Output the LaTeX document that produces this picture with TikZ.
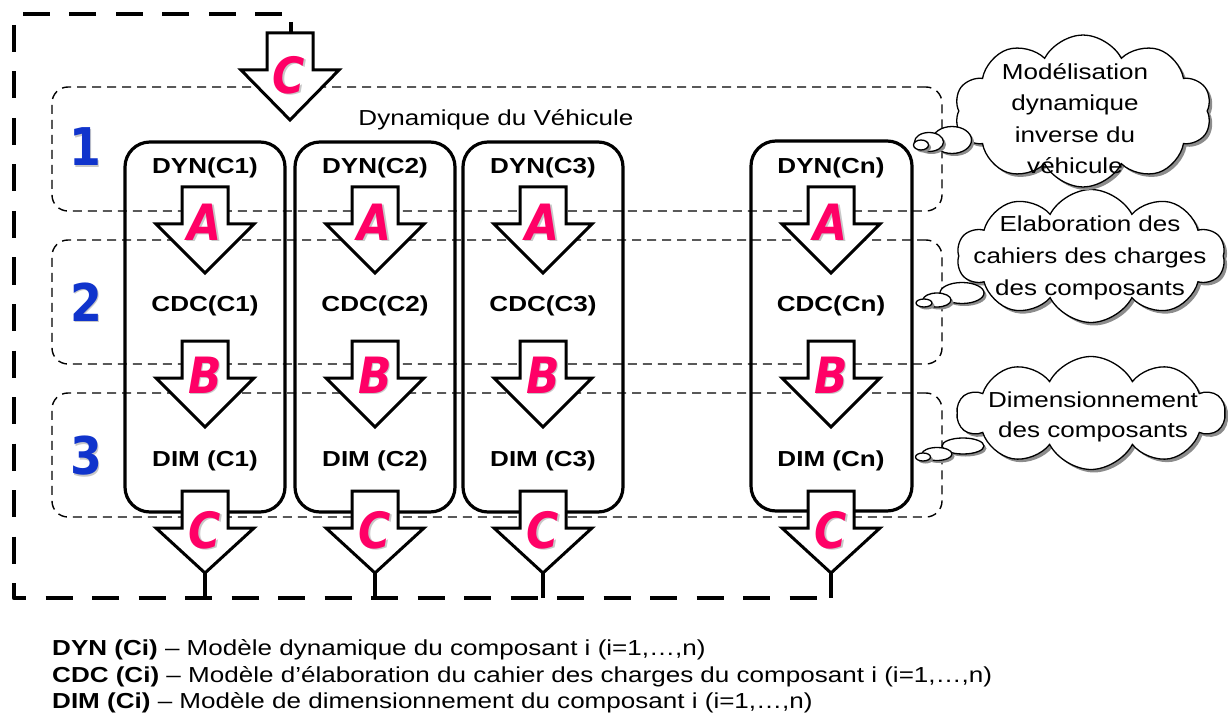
\documentclass[tikz,border=0pt]{standalone}
\usepackage{fontspec}
\setmainfont{Liberation Sans}[FakeStretch=1.2]
\newfontfamily\letterfont{DejaVu Sans}[FakeStretch=0.88]
\usetikzlibrary{shapes.symbols,shapes.geometric,shadows}
\definecolor{pinkL}{RGB}{255,0,102}
\definecolor{blueN}{RGB}{16,52,204}
\definecolor{shadowG}{RGB}{200,200,200}
\newcommand\mkletter[5]{% style, name, x, y, text
  \node[#1, text=shadowG] (#2s) at (#3+1.6,#4+1.6) {#5};
  \node[#1] (#2) at (#3,#4) {#5};}
\begin{document}
\begin{tikzpicture}[x=1pt,y=-1pt,
  rowbox/.style={draw, line width=1.4pt, dash pattern=on 9pt off 6pt, rounded corners=16pt,
    minimum width=890pt, minimum height=124pt, inner sep=0pt},
  colbox/.style={draw, line width=3.2pt, rounded corners=25pt,
    minimum width=160pt, minimum height=370pt, inner sep=0pt},
  lbl/.style={font=\bfseries\fontsize{21.7}{26}\selectfont, anchor=base, inner sep=0pt},
  txt/.style={font=\fontsize{21.7}{26}\selectfont, anchor=base, inner sep=0pt},
  legend/.style={font=\fontsize{21.7}{26}\selectfont, anchor=base west, inner sep=0pt},
  blkline/.style={draw, fill=white, line width=3pt, line join=miter},
  pics/blk/.style={code={\path[blkline] (-23,0) -- (23,0) -- (23,37) -- (49,37) -- (0,#1) -- (-49,37) -- (-23,37) -- cycle;}},
  letter/.style={font=\letterfont\bfseries\itshape\fontsize{50}{50}\selectfont, text=pinkL, inner sep=0pt},
  num/.style={font=\letterfont\bfseries\fontsize{52}{52}\selectfont, text=blueN, inner sep=0pt},
  cloudbox/.style={cloud, cloud puffs=10, cloud puff arc=125, cloud ignores aspect, draw, fill=white,
    line width=1.3pt, drop shadow={shadow xshift=3pt, shadow yshift=-3pt, fill=black!45, opacity=1}, inner sep=0pt},
  bubble/.style={ellipse, draw, fill=white, line width=1.3pt,
    drop shadow={shadow xshift=2.5pt, shadow yshift=-2.5pt, fill=black!45, opacity=1}, inner sep=0pt},
  outer/.style={line width=4.5pt, dash pattern=on 27pt off 19.5pt, dash phase=36.5pt, line join=round},
  tail/.style={line width=4pt}]
\useasboundingbox (0,0) rectangle (1232,722);

% outer dashed feedback loop
\draw[outer] (292,14) -- (14,14) -- (14,598) -- (831,598);

% rows
\node[rowbox] (row1) at (497,149) {};
\node[rowbox] (row2) at (497,302) {};
\node[rowbox] (row3) at (497,455) {};

% row numbers
\mkletter{num}{n1}{85}{147}{1}
\mkletter{num}{n2}{86}{302}{2}
\mkletter{num}{n3}{86}{456}{3}

\node[txt] (dv) at (496,126) {Dynamique du Véhicule};

% columns
\node[colbox] (col1) at (205,327) {};
\node[colbox] (col2) at (375,327) {};
\node[colbox] (col3) at (543,327) {};
\node[colbox, minimum width=161pt] (coln) at (831.5,326) {};

% labels
\node[lbl] (dyn1) at (205,174) {DYN(C1)};
\node[lbl] (dyn2) at (375,174) {DYN(C2)};
\node[lbl] (dyn3) at (543,174) {DYN(C3)};
\node[lbl] (dynn) at (831,174) {DYN(Cn)};
\node[lbl] (cdc1) at (205,312) {CDC(C1)};
\node[lbl] (cdc2) at (375,312) {CDC(C2)};
\node[lbl] (cdc3) at (543,312) {CDC(C3)};
\node[lbl] (cdcn) at (831,312) {CDC(Cn)};
\node[lbl] (dim1) at (205,466) {DIM (C1)};
\node[lbl] (dim2) at (375,466) {DIM (C2)};
\node[lbl] (dim3) at (543,466) {DIM (C3)};
\node[lbl] (dimn) at (831,466) {DIM (Cn)};

% top C arrow
\draw[tail] (291,22) -- (291,34);
\pic at (290,33) {blk=87};
\mkletter{letter}{ct}{289}{75}{C}

% A and B arrows
\foreach \cx/\nm in {205/1,375/2,543/3,831/n}{
  \pic at (\cx,187) {blk=86};
  \mkletter{letter}{a\nm}{\cx}{222}{A}
  \pic at (\cx,341) {blk=86};
  \mkletter{letter}{b\nm}{\cx}{375}{B}
}

% bottom C arrows and tails
\foreach \cx/\nm in {205/1,375/2,543/3,831/n}{
  \draw[tail] (\cx,572) -- (\cx,598);
  \pic at (\cx,491) {blk=82};
  \mkletter{letter}{c\nm}{\cx}{530}{C}
}

% clouds
\node[cloudbox, minimum width=268pt, minimum height=133pt] (cl2) at (1091,256) {};
\node[cloudbox, minimum width=257pt, minimum height=152pt] (cl1) at (1083,111) {};
\node[cloudbox, minimum width=267pt, minimum height=113pt] (cl3) at (1091,413) {};

% bubbles cloud 1
\node[bubble, minimum width=39pt, minimum height=27pt] (b1c) at (952,140) {};
\node[bubble, minimum width=29pt, minimum height=19pt] (b1b) at (929,142) {};
\node[bubble, minimum width=15pt, minimum height=10pt] (b1a) at (921,145) {};
% bubbles cloud 2
\node[bubble, minimum width=44pt, minimum height=21pt] (b2c) at (962,293) {};
\node[bubble, minimum width=28pt, minimum height=14pt] (b2b) at (937,300) {};
\node[bubble, minimum width=16pt, minimum height=8pt] (b2a) at (924,303) {};
% bubbles cloud 3
\node[bubble, minimum width=42pt, minimum height=16pt] (b3c) at (963,446) {};
\node[bubble, minimum width=30pt, minimum height=13pt] (b3b) at (937,454) {};
\node[bubble, minimum width=15pt, minimum height=8pt] (b3a) at (923,457) {};

% cloud texts
\node[txt] (t1a) at (1075,80) {Modélisation};
\node[txt] (t1b) at (1075,111) {dynamique};
\node[txt] (t1c) at (1075,143) {inverse du};
\node[txt] (t1d) at (1075,174) {véhicule};
\node[txt] (t2a) at (1090,232) {Elaboration des};
\node[txt] (t2b) at (1090,264) {cahiers des charges};
\node[txt] (t2c) at (1090,295) {des composants};
\node[txt] (t3a) at (1093,407) {Dimensionnement};
\node[txt] (t3b) at (1093,437) {des composants};

% legend
\node[legend] (lg1) at (52,655) {\textbf{DYN (Ci)} – Modèle dynamique du composant i (i=1,…,n)};
\node[legend] (lg2) at (52,682) {\textbf{CDC (Ci)} – Modèle d’élaboration du cahier des charges du composant i (i=1,…,n)};
\node[legend] (lg3) at (52,708) {\textbf{DIM (Ci)} – Modèle de dimensionnement du composant i (i=1,…,n)};
\end{tikzpicture}
\end{document}
